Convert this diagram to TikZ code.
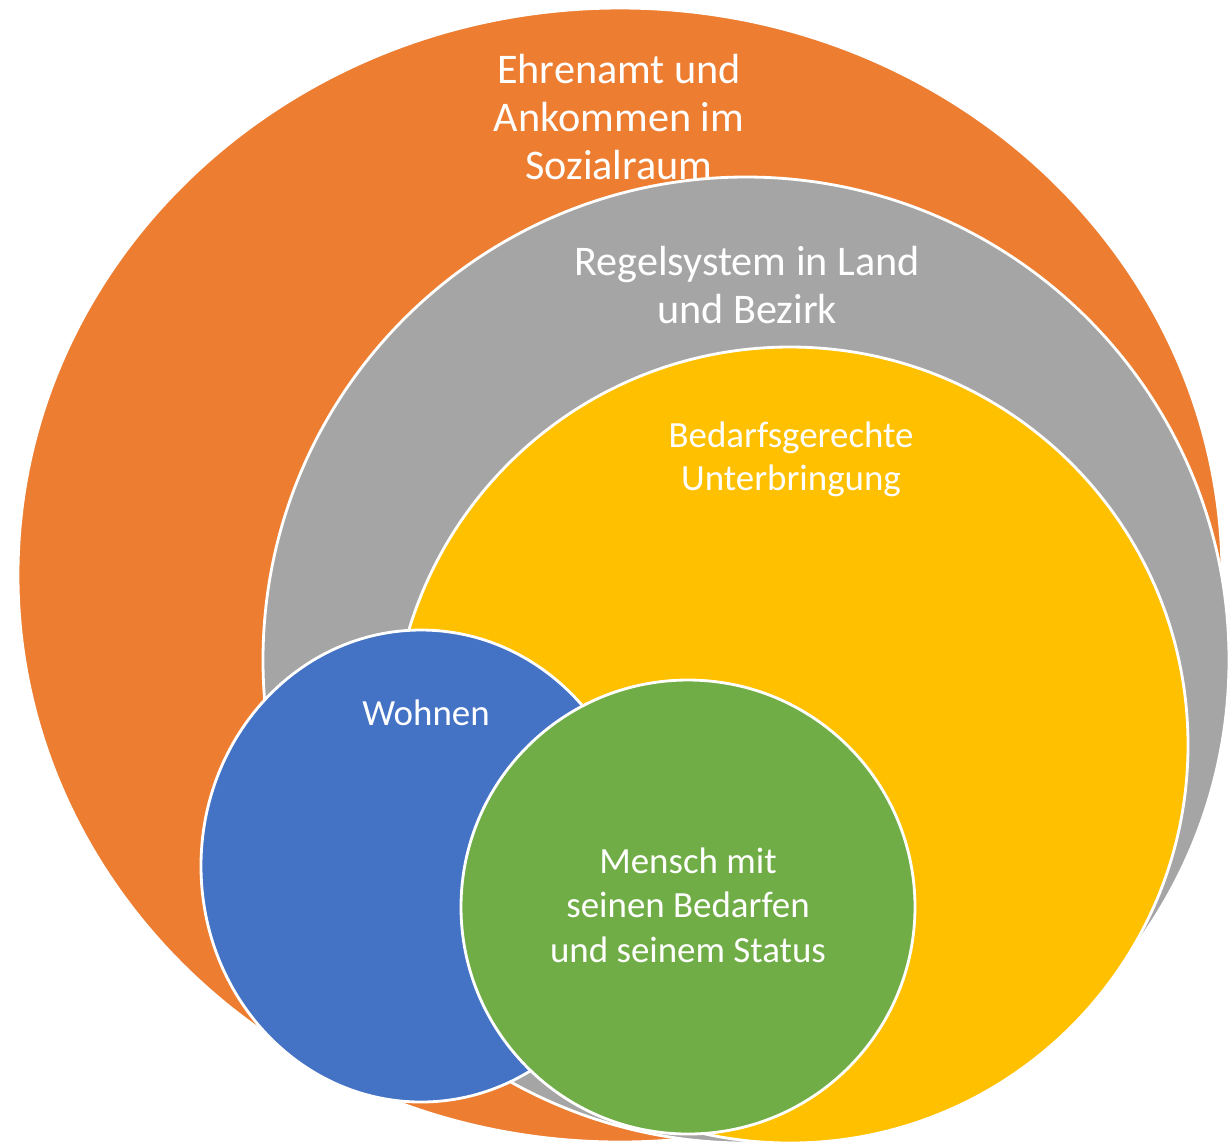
\documentclass[tikz,border=0pt]{standalone}
\usepackage{fontspec}
\setmainfont{Carlito}
\definecolor{ehrenamt}{HTML}{ED7D31}
\definecolor{regelsystem}{HTML}{A5A5A5}
\definecolor{unterbringung}{HTML}{FFC000}
\definecolor{wohnen}{HTML}{4472C4}
\definecolor{mensch}{HTML}{70AD47}
\begin{document}
\begin{tikzpicture}[x=0.01cm, y=-0.01cm, line join=round, line cap=round,
    kreis/.style={draw=white, line width=0.8pt},
    beschrift/.style={text=white, align=center, inner sep=0pt}]
    \def\gross{\fontsize{12}{13.7}\selectfont}
    \def\klein{\fontsize{10.5}{12.3}\selectfont}
    \useasboundingbox (0,0) rectangle (1230,1141);
    \clip (0,0) rectangle (1230,1141);

    % Kreise von aussen nach innen
    \filldraw[kreis, fill=ehrenamt] (620,575) ellipse [x radius=602, y radius=567];
    \filldraw[kreis, fill=regelsystem] (746,660) circle [radius=483];
    \filldraw[kreis, fill=unterbringung] (790,745) circle [radius=398];
    \filldraw[kreis, fill=wohnen] (421,866) ellipse [x radius=220, y radius=236];
    \filldraw[kreis, fill=mensch] (688,907) circle [radius=227];

    \node[beschrift, font=\gross] (ehrenamttext) at (619,117) {Ehrenamt und\\Ankommen im\\Sozialraum};
    \node[beschrift, font=\gross] (regeltext) at (747,285) {Regelsystem in Land\\und Bezirk};
    \node[beschrift, font=\klein] (bedarftext) at (791,459) {Bedarfsgerechte\\Unterbringung};
    \node[beschrift, font=\klein] (wohntext) at (426,713) {Wohnen};
    \node[beschrift, font=\fontsize{10.5}{12.7}\selectfont] (menschtext) at (688,905) {Mensch mit\\seinen Bedarfen\\und seinem Status};
\end{tikzpicture}
\end{document}
